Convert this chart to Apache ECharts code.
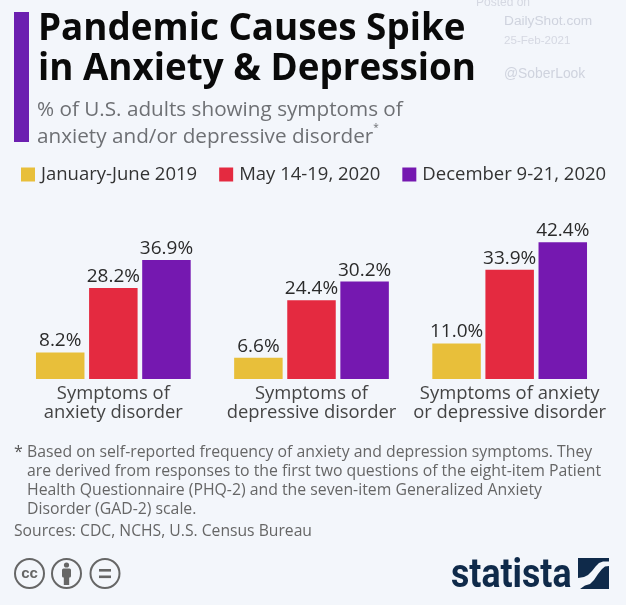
<!DOCTYPE html>
<html><head><meta charset="utf-8">
<style>html,body{margin:0;padding:0;background:#f3f6fb}#c{width:626px;height:605px;filter:blur(0.5px)}</style>
<script src="https://cdn.jsdelivr.net/npm/echarts@6/dist/echarts.min.js"></script>
</head><body><div id="c"></div>
<script>
const categories = ['Symptoms of\nanxiety disorder','Symptoms of\ndepressive disorder','Symptoms of anxiety\nor depressive disorder'];
const seriesNames = ['January-June 2019','May 14-19, 2020','December 9-21, 2020'];
const jan2019 = [8.2,6.6,11.0];
const may2020 = [28.2,24.4,33.9];
const dec2020 = [36.9,30.2,42.4];
const colors = ['#e8bf3a','#e42a40','#7518b0'];
const FONT = '"Open Sans"';
const chart = echarts.init(document.getElementById('c'),null,{renderer:'canvas'});
const mk = (name,data,color)=>({name,type:'bar',data,barWidth:48.5,barGap:'9.5%',
  itemStyle:{color},
  label:{show:true,position:'top',distance:2,fontFamily:FONT,fontSize:19,color:'#2b2b2b',
    formatter:p=>p.value.toFixed(1)+'%'}});
const t=(text,left,top,style)=>({text,left,top,padding:0,textStyle:Object.assign({fontFamily:FONT,fontWeight:'normal'},style)});
chart.setOption({
  animation:false,
  backgroundColor:'#f3f6fb',
  title:[
    t('Pandemic Causes Spike\nin Anxiety & Depression',38,10,{fontSize:36.8,fontWeight:'bold',color:'#0a0a0a',lineHeight:40}),
    t('% of U.S. adults showing symptoms of\nanxiety and/or depressive disorder{s|*}',37,97,{fontSize:20.7,color:'#6e7074',lineHeight:26.5,rich:{s:{fontSize:10,color:'#6e7074',verticalAlign:'top',padding:[0,0,8,0]}}}),
    t('*',14,444,{fontSize:16,color:'#555'}),
    t('Based on self-reported frequency of anxiety and depression symptoms. They\nare derived from responses to the first two questions of the eight-item Patient\nHealth Questionnaire (PHQ-2) and the seven-item Generalized Anxiety\nDisorder (GAD-2) scale.',27,443,{fontSize:15.8,color:'#666',lineHeight:19}),
    t('Sources: CDC, NCHS, U.S. Census Bureau',14,524,{fontSize:15.7,color:'#666'}),
    t('Posted on',476,-3,{fontFamily:'"Liberation Sans"',fontSize:12,color:'#d5d8e2'}),
    t('DailyShot.com',504,14,{fontFamily:'"Liberation Sans"',fontSize:13.7,color:'#cfd3de'}),
    t('25-Feb-2021',504,35,{fontFamily:'"Liberation Sans"',fontSize:11.6,color:'#d5d8e2'}),
    t('@SoberLook',504,67,{fontFamily:'"Liberation Sans"',fontSize:13.9,color:'#cfd3de'})
  ],
  legend:{left:21,top:165,padding:0,itemWidth:14,itemHeight:14,itemGap:22,icon:'rect',
    textStyle:{fontFamily:FONT,fontSize:18.5,color:'#333',padding:[0,0,0,1]},
    data:seriesNames},
  grid:{left:14.25,right:17.25,top:217.75,height:161.25,containLabel:false},
  xAxis:{type:'category',data:categories,axisTick:{show:false},axisLine:{show:false},
    axisLabel:{fontFamily:FONT,fontSize:18.4,color:'#444',lineHeight:19.5,margin:5,interval:0}},
  yAxis:{type:'value',min:0,max:50,show:false,splitLine:{show:false}},
  series:[mk(seriesNames[0],jan2019,colors[0]),mk(seriesNames[1],may2020,colors[1]),mk(seriesNames[2],dec2020,colors[2])],
  graphic:[
    {type:'rect',shape:{x:14,y:12,width:15,height:130},style:{fill:'#6c1fb0'}},
    {type:'circle',shape:{cx:29.5,cy:573.5,r:14.5},style:{fill:'none',stroke:'#666',lineWidth:2}},
    {type:'text',style:{x:29.5,y:573.5,text:'cc',align:'center',verticalAlign:'middle',fontFamily:'"Liberation Sans"',fontWeight:'bold',fontSize:15,fill:'#666'}},
    {type:'circle',shape:{cx:66.5,cy:573.5,r:14.5},style:{fill:'none',stroke:'#666',lineWidth:2}},
    {type:'circle',shape:{cx:66.5,cy:565,r:2.6},style:{fill:'#666'}},
    {type:'rect',shape:{x:62,y:568.5,width:9,height:9,r:1.5},style:{fill:'#666'}},
    {type:'rect',shape:{x:63.8,y:577,width:5.4,height:8},style:{fill:'#666'}},
    {type:'circle',shape:{cx:105,cy:573.5,r:14.5},style:{fill:'none',stroke:'#666',lineWidth:2}},
    {type:'rect',shape:{x:99,y:569,width:12,height:2.6},style:{fill:'#666'}},
    {type:'rect',shape:{x:99,y:575.5,width:12,height:2.6},style:{fill:'#666'}},
    {type:'text',x:451,y:577,scaleX:0.87,style:{x:0,y:0,text:'statista',verticalAlign:'middle',fontFamily:'Roboto',fontWeight:'bold',fontSize:41,fill:'#0f2a4a'}},
    {type:'polygon',shape:{points:[[578,558],[609,558],[609,561.5],[603,561.5],[599,563],[596,566],[592,571],[588,575],[584,577],[578,578]]},style:{fill:'#0f2a4a'}},
    {type:'polygon',shape:{points:[[609,566],[605,566.5],[602,569],[598,574],[594,580],[590,584],[585,585.5],[580,589],[609,589]]},style:{fill:'#0f2a4a'}}
  ]
});
</script></body></html>
